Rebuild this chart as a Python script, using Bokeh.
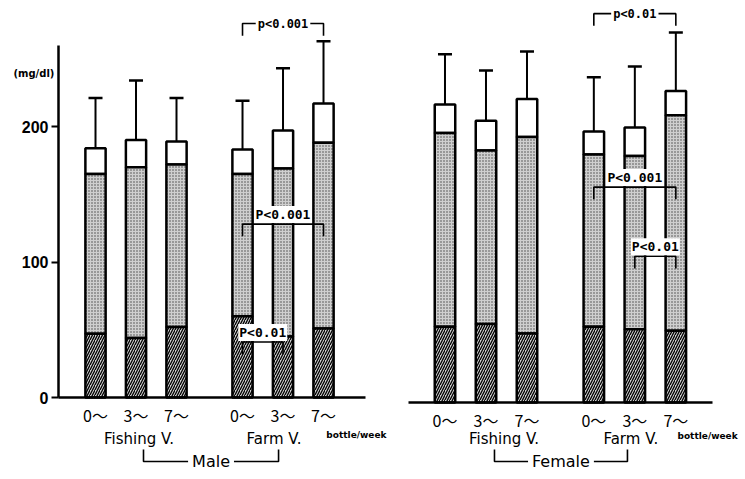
from bokeh.plotting import figure
from bokeh.models import (Range1d, LinearAxis, FixedTicker, Whisker, ColumnDataSource,
                          TeeHead)
from bokeh.layouts import row
from bokeh.embed import file_html
from bokeh.resources import INLINE

# ---------------- data ----------------
groups = ["Fishing V.", "Farm V."]
intake = ["0～", "3～", "7～"]
unit_label = "bottle/week"
y_unit = "(mg/dl)"
y_ticks = [0, 100, 200]
sexes = ["Male", "Female"]

# stacked segments (bottom hatched, middle stippled, top white) and SD above total
male_bottom = [47, 44, 52, 60, 45, 51]
male_middle = [118, 126, 120, 105, 124, 137]
male_top = [19, 20, 17, 18, 28, 29]
male_sd = [37, 44, 32, 36, 46, 46]

female_bottom = [56, 58, 51, 56, 54, 53]
female_middle = [143, 128, 145, 127, 128, 159]
female_top = [21, 22, 28, 17, 21, 18]
female_sd = [37, 37, 35, 40, 45, 43]

# significance: (from bar, to bar, level, label, placement)
male_sig = [(3, 5, 276, "p<0.001", "on"), (3, 5, 128, "P<0.001", "above"),
            (3, 4, 41, "P<0.01", "above")]
female_sig = [(3, 5, 287, "p<0.01", "on"), (3, 5, 159, "P<0.001", "above"),
              (4, 5, 108, "P<0.01", "above")]

# ---------------- layout constants ----------------
GAP = 0.63
BW = 0.5
xpos = [round(g * (3 + GAP) + i, 2) for g in range(2) for i in range(3)]
tick_labels = {xpos[k]: intake[k % 3] for k in range(6)}
group_centers = [round(g * (3 + GAP) + 1, 2) for g in range(2)]

FONT = "DejaVu Sans"
HEIGHT = 479


def make_panel(sex, bottom, middle, top, sd, sig, width, xr, yr, yaxis_x, xbounds,
               label_offsets, label_y, unit_x, unit_y, bracket_x, bracket_y):
    p = figure(width=width, height=HEIGHT, x_range=Range1d(*xr), y_range=Range1d(*yr),
               output_backend="svg", toolbar_location=None, x_axis_location=None,
               y_axis_location=None, min_border=0)
    p.xgrid.visible = False
    p.ygrid.visible = False
    p.outline_line_color = None

    b1 = list(bottom)
    b2 = [a + b for a, b in zip(bottom, middle)]
    b3 = [a + b for a, b in zip(b2, top)]
    src = ColumnDataSource(dict(x=xpos, b0=[0] * 6, b1=b1, b2=b2, b3=b3,
                                up=[t + s for t, s in zip(b3, sd)]))

    p.vbar(x="x", bottom="b2", top="b3", width=BW, source=src, fill_color="white",
           line_color="black", line_width=2.5)
    p.vbar(x="x", bottom="b1", top="b2", width=BW, source=src, fill_color="#cfcfcf",
           hatch_pattern=".", hatch_color="#444444", hatch_scale=3, hatch_weight=1,
           line_color="black", line_width=2.5)
    p.vbar(x="x", bottom="b0", top="b1", width=BW, source=src, fill_color="#d0d0d0",
           hatch_pattern="/", hatch_color="black", hatch_scale=5, hatch_weight=1.3,
           line_color="black", line_width=2.5)

    p.add_layout(Whisker(base="x", lower="b3", upper="up", source=src, dimension="height",
                         line_width=2, line_color="black",
                         upper_head=TeeHead(size=14, line_width=2.5, line_color="black"),
                         lower_head=None))

    # significance brackets
    drop = 9
    xs, ys, tx, ty_on, lab_on, tx2, ty2, lab2 = [], [], [], [], [], [], [], []
    for a, b, lvl, lab, place in sig:
        xa, xb = xpos[a], xpos[b]
        xs.append([xa, xa, xb, xb])
        ys.append([lvl - drop, lvl, lvl, lvl - drop])
        if place == "on":
            tx.append((xa + xb) / 2); ty_on.append(lvl); lab_on.append(lab)
        else:
            tx2.append((xa + xb) / 2); ty2.append(lvl); lab2.append(lab)
    p.multi_line(xs=xs, ys=ys, line_color="black", line_width=1.6)
    p.text(x=tx, y=ty_on, text=lab_on, text_align="center", text_baseline="middle",
           text_font={"value": "DejaVu Sans Mono"}, text_font_style="bold",
           text_font_size="12px", background_fill_color="white", padding=2)
    p.text(x=tx2, y=ty2, text=lab2, text_align="center", text_baseline="bottom",
           y_offset=-1,
           text_font={"value": "DejaVu Sans Mono"}, text_font_style="bold",
           text_font_size="13px", background_fill_color="white", padding=1)

    # x axis at y = 0
    xa = LinearAxis(ticker=FixedTicker(ticks=xpos, minor_ticks=[]),
                    major_label_overrides=tick_labels, fixed_location=0,
                    bounds=xbounds, axis_line_width=2.5, axis_line_color="black",
                    major_tick_line_color=None, major_tick_out=0, major_tick_in=0,
                    major_label_standoff=5, major_label_text_font_size="16px",
                    major_label_text_font="Noto Sans CJK JP",
                    major_label_text_color="black")
    p.add_layout(xa, "below")

    if yaxis_x is not None:
        ya = LinearAxis(ticker=FixedTicker(ticks=y_ticks, minor_ticks=[]),
                        fixed_location=yaxis_x, bounds=(0, 260),
                        axis_line_width=2.5, axis_line_color="black",
                        major_tick_out=7, major_tick_in=0, major_tick_line_width=2,
                        major_tick_line_color="black", major_label_standoff=3,
                        major_label_text_font_size="16px",
                        major_label_text_font_style="bold",
                        major_label_text_font="Liberation Sans",
                        major_label_text_color="black")
        p.add_layout(ya, "left")
        p.text(x=[xr[0] + 0.32], y=[239], text=[y_unit], text_align="left",
               text_baseline="middle", text_font={"value": FONT},
               text_font_style="bold", text_font_size="10px")

    # group labels
    p.text(x=group_centers, y=[label_y] * 2, text=groups, x_offset=label_offsets,
           text_align="center", text_baseline="middle", text_font={"value": FONT},
           text_font_size="15px")
    p.text(x=[unit_x], y=[unit_y], text=[unit_label], text_align="left",
           text_baseline="middle", text_font={"value": FONT}, text_font_style="bold",
           text_font_size="9px")

    # sex bracket
    y0, y1 = bracket_y
    p.multi_line(xs=[[bracket_x[0], bracket_x[0], bracket_x[1], bracket_x[1]]],
                 ys=[[y1, y0, y0, y1]], line_color="black", line_width=1.6)
    p.text(x=[(bracket_x[0] + bracket_x[1]) / 2], y=[y0], text=[sex], text_align="center",
           text_baseline="middle", text_font={"value": FONT}, text_font_size="16px",
           background_fill_color="white", padding=4)
    return p


left = make_panel(sexes[0], male_bottom, male_middle, male_top, male_sd, male_sig,
                  400, (-2.346, 7.531), (-60.5, 293.0), -0.914, (-0.914, 6.67),
                  [3, -9], -30.3, 5.70, -28, (1.185, 4.52), (-47.2, -38.4))
right = make_panel(sexes[1], female_bottom, female_middle, female_top, female_sd,
                   female_sig, 345, (-1.085, 7.329), (-56.8, 296.7), None,
                   (-0.89, 6.52), [18, -4], -26.6, 5.67, -24.4, (1.207, 4.45),
                   (-43.5, -34.7))

layout = row(left, right)
open("out.html", "w").write(file_html(layout, INLINE))
